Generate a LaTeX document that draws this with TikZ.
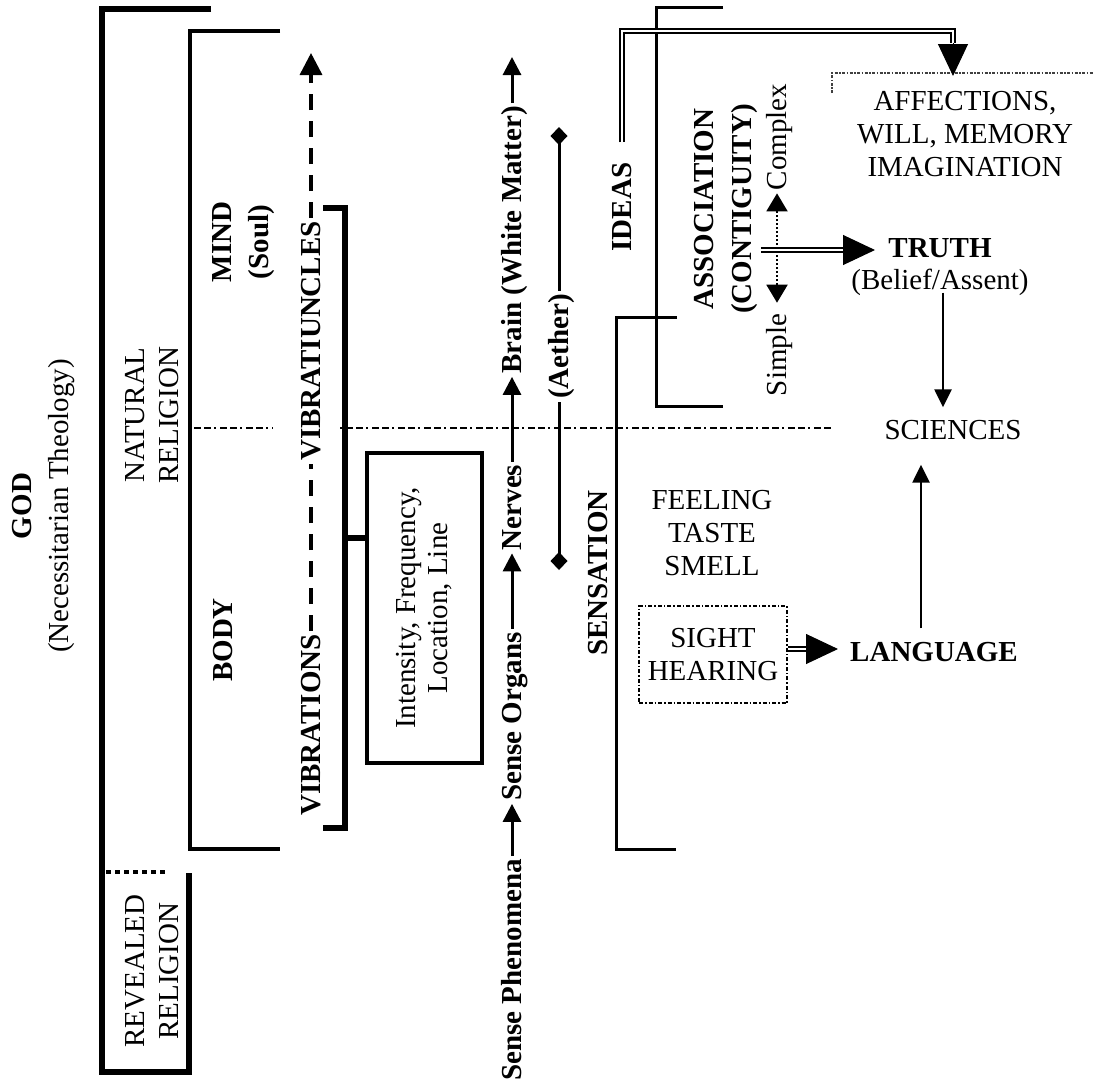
\documentclass[tikz,border=0pt]{standalone}
\usepackage{fontspec}
\setmainfont{Liberation Serif}
\usetikzlibrary{arrows.meta}
\begin{document}
\begin{tikzpicture}[x=1pt,y=-1pt,
  lab/.style={font=\fontsize{29}{33}\selectfont, inner sep=3pt, align=center},
  blab/.style={lab, font=\fontsize{29}{33}\selectfont\bfseries},
  up/.style={rotate=90},
  capbox/.style={text height=19pt, text depth=0pt},
  heavy/.style={line width=6pt},
  medium/.style={line width=4pt},
  light/.style={line width=3pt},
  sarrow/.style={line width=3pt, -{Triangle[length=18pt,width=18pt]}},
  narrow/.style={line width=2.5pt, -{Triangle[length=18pt,width=17pt]}},
  dline/.style={line width=3pt, -{Diamond[length=18pt,width=17pt]}},
  vdash/.style={line width=3.5pt, dash pattern=on 16pt off 11pt},
  dotarr/.style={line width=2pt, dash pattern=on 2pt off 2pt,
    {Triangle[length=18pt,width=21pt]}-{Triangle[length=18pt,width=21pt]}},
  dbl/.style={double, line width=1.3pt, double distance=2.5pt},
  bigtip/.style={line width=1pt, -{Triangle[length=32pt,width=30pt]}},
  hdash/.style={line width=1.7pt, dash pattern=on 2pt off 4pt on 7pt off 3pt on 7pt off 3pt},
  boxdash/.style={line width=2pt, dash pattern=on 4pt off 2pt on 1.5pt off 2pt},
  affdash/.style={line width=1.5pt, black!75, dash pattern=on 3pt off 1.5pt on 1.5pt off 1.5pt}
]
\useasboundingbox (0,0) rectangle (1093,1088);

% ---- religion brackets ----
\draw[heavy] (211,9) -- (102,9) -- (102,1072) -- (189,1072) -- (189,873);
\draw[line width=3.5pt, dash pattern=on 5pt off 4pt] (106,872) -- (167,872);
\draw[medium] (280,31) -- (190,31) -- (190,849) -- (280,849);

\node[lab, up] (god) at (44,506) {{\bfseries GOD}\\[4pt](Necessitarian Theology)};
\node[lab, up] (nat) at (152,415) {NATURAL\\[1pt]RELIGION};
\node[lab, up] (rev) at (152,971) {REVEALED\\[1pt]RELIGION};

% ---- body and mind ----
\node[blab, up] (mind) at (244,242) {MIND\\[4pt](Soul)};
\node[blab, up, capbox] (body) at (223,640) {BODY};

% ---- vibrations ----
\node[blab, up, capbox] (viu) at (311,341) {VIBRATIUNCLES};
\node[blab, up, capbox] (vibs) at (311,725) {VIBRATIONS};
\coordinate (vtop) at (311,53);
\draw[vdash] (vibs.east) -- (viu.west);
\draw[vdash, -{Triangle[length=22pt,width=22pt]}] (viu.east) -- (vtop);

\draw[heavy] (323,208) -- (345,208) -- (345,828) -- (323,828);
\node[lab, up, draw, line width=4pt, minimum width=310pt, minimum height=115pt]
  (qual) at (424.5,608) {Intensity, Frequency,\\[-1pt]Location, Line};
\coordinate (vbj) at (345,538);
\draw[heavy] (vbj) -- (vbj -| qual.north);

% ---- division between mind and body ----
\draw[hdash] (188,428) -- (273,428);
\draw[hdash] (340,428) -- (833,428);

% ---- sensory pathway ----
\node[blab, up, capbox] (sp) at (512,970) {Sense Phenomena};
\node[blab, up, capbox] (so) at (512,716.5) {Sense Organs};
\node[blab, up, capbox] (nv) at (512,507.5) {Nerves};
\node[blab, up, capbox] (br) at (512,240) {Brain (White Matter)};
\coordinate (brtop) at (512,57);
\draw[sarrow] (sp.east) -- (so.west);
\draw[sarrow] (so.east) -- (nv.west);
\draw[sarrow] (nv.east) -- (br.west);
\draw[sarrow] (br.east) -- (brtop);

\node[blab, up, capbox] (ae) at (559,346.5) {(Aether)};
\coordinate (aetop) at (559,127);
\coordinate (aebot) at (559,570);
\draw[dline] (ae.east) -- (aetop);
\draw[dline] (ae.west) -- (aebot);

% ---- sensation ----
\draw[light] (677,317) -- (616,317) -- (616,849) -- (676,849);
\node[blab, up, capbox] (sens) at (598,573) {SENSATION};
\node[lab] (fts) at (712,533.5) {FEELING\\TASTE\\SMELL};
\node[lab, draw, boxdash, minimum width=148pt, minimum height=97pt]
  (sh) at (713,654.5) {SIGHT\\HEARING};
\node[blab, capbox] (lang) at (934,652) {LANGUAGE};
\coordinate (lb) at (808,649);
\coordinate (lc) at (838,649);
\draw[dbl] (sh.east |- lb) -- (lb);
\draw[bigtip] (lb) -- (lc);

% ---- ideas ----
\draw[light] (723,7) -- (656,7) -- (656,406) -- (723,406);
\node[blab, up, capbox] (ideas) at (622,207) {IDEAS};
\node[blab, up] (assoc) at (726,209) {ASSOCIATION\\[5pt](CONTIGUITY)};
\node[lab, up, capbox] (cx) at (777,137) {Complex};
\node[lab, up, capbox] (sm) at (777,355) {Simple};
\draw[dotarr] ([yshift=8pt]sm.east) -- (cx.west);

\draw[affdash] (832,93) -- (832,73) -- (1093,73);
\node[lab] (aff) at (965,134.5) {AFFECTIONS,\\WILL, MEMORY\\IMAGINATION};
\coordinate (dc) at (953,31);
\coordinate (dd) at (953,43);
\coordinate (afftop) at (953,76);
\draw[dbl] ([yshift=17pt]ideas.east) |- (dc) -- (dd);
\draw[bigtip] (dd) -- (afftop);

\node[blab, capbox] (truth) at (940,248) {TRUTH};
\node[lab, capbox] (belief) at (940,280) {(Belief/Assent)};
\coordinate (tb) at (843,250);
\coordinate (tc) at (875,250);
\draw[dbl] (assoc.south |- tb) -- (tb);
\draw[bigtip] (tb) -- (tc);

\node[lab, capbox] (sci) at (953,430) {SCIENCES};
\draw[narrow] ([xshift=3pt]belief.south) -- ([xshift=-10pt,yshift=10pt]sci.north);
\draw[narrow] ([xshift=-13pt,yshift=11pt]lang.north) -- ([xshift=-32pt,yshift=-22pt]sci.south);
\end{tikzpicture}
\end{document}
